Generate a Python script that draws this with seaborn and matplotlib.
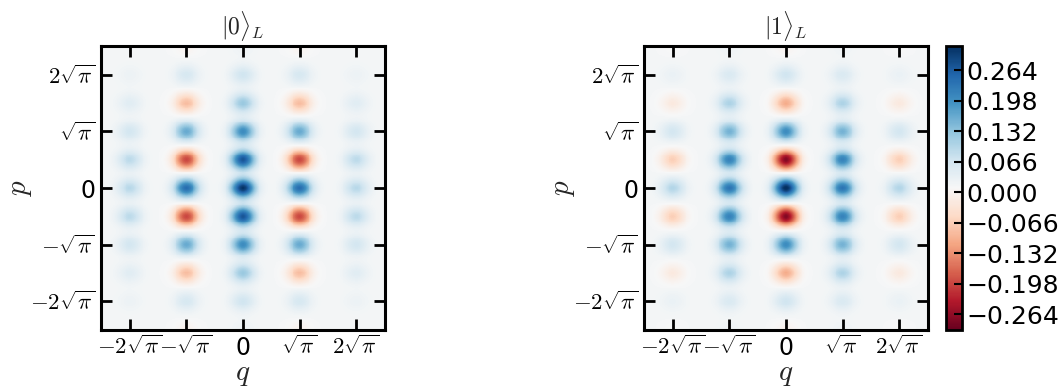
import numpy as np
import pandas as pd
import matplotlib
matplotlib.use("Agg")
import matplotlib.pyplot as plt
import seaborn as sns

# Lattice of peak positions, in units of sqrt(pi)
q_peaks = [-2, -1, 0, 1, 2]
p_peaks = [-2.5, -2.0, -1.5, -1.0, -0.5, 0.0, 0.5, 1.0, 1.5, 2.0, 2.5]

# Peak heights of W(q, p) for |0>_L : rows follow p_peaks, columns follow q_peaks
w0_peaks = [
    [0.000, -0.015, 0.010, -0.015, 0.000],
    [0.012, 0.045, 0.055, 0.045, 0.012],
    [0.030, -0.100, 0.110, -0.100, 0.030],
    [0.050, 0.150, 0.190, 0.150, 0.050],
    [0.075, -0.210, 0.260, -0.210, 0.075],
    [0.080, 0.230, 0.300, 0.230, 0.080],
    [0.075, -0.210, 0.260, -0.210, 0.075],
    [0.050, 0.150, 0.190, 0.150, 0.050],
    [0.030, -0.100, 0.110, -0.100, 0.030],
    [0.012, 0.045, 0.055, 0.045, 0.012],
    [0.000, -0.015, 0.010, -0.015, 0.000],
]

# Peak heights of W(q, p) for |1>_L
w1_peaks = [
    [-0.005, 0.008, -0.015, 0.008, -0.005],
    [0.015, 0.040, 0.055, 0.040, 0.015],
    [-0.035, 0.090, -0.120, 0.090, -0.035],
    [0.050, 0.140, 0.190, 0.140, 0.050],
    [-0.080, 0.200, -0.290, 0.200, -0.080],
    [0.085, 0.220, 0.310, 0.220, 0.085],
    [-0.080, 0.200, -0.290, 0.200, -0.080],
    [0.050, 0.140, 0.190, 0.140, 0.050],
    [-0.035, 0.090, -0.120, 0.090, -0.035],
    [0.015, 0.040, 0.055, 0.040, 0.015],
    [-0.005, 0.008, -0.015, 0.008, -0.005],
]

titles = [r"$|0\rangle_L$", r"$|1\rangle_L$"]
tick_units = [-2, -1, 0, 1, 2]
tick_labels = [r"$-2\sqrt{\pi}$", r"$-\sqrt{\pi}$", "0", r"$\sqrt{\pi}$", r"$2\sqrt{\pi}$"]
cbar_ticks = [-0.264, -0.198, -0.132, -0.066, 0.0, 0.066, 0.132, 0.198, 0.264]
vmin, vmax = -0.298, 0.317
background = 0.015

sns.set_theme(style="white")
plt.rcParams["font.family"] = ["DejaVu Sans"]
plt.rcParams["mathtext.fontset"] = "cm"
plt.rcParams["axes.axisbelow"] = False

sq = np.sqrt(np.pi)
extent = 2.5 * sq
n = 301
grid = np.linspace(-extent, extent, n)
Q, P = np.meshgrid(grid, grid)
sig_q, sig_p = 0.15 * sq, 0.12 * sq


def wigner_field(peaks):
    field = np.full_like(Q, background)
    for i, pc in enumerate(p_peaks):
        for j, qc in enumerate(q_peaks):
            amp = peaks[i][j]
            field += amp * np.exp(-((Q - qc * sq) ** 2) / (2 * sig_q ** 2)
                                  - ((P - pc * sq) ** 2) / (2 * sig_p ** 2))
    return pd.DataFrame(field, index=grid, columns=grid)


fig = plt.figure(figsize=(10.62, 3.90), dpi=100)
ax0 = fig.add_axes([0.0951, 0.1538, 0.2674, 0.7282])
ax1 = fig.add_axes([0.6064, 0.1538, 0.2674, 0.7282])
cax = fig.add_axes([0.8908, 0.1538, 0.0151, 0.7282])


def to_index(v):
    return (v - (-extent)) / (2 * extent) * (n - 1) + 0.5


def style_ticklabels(labels):
    for lab in labels:
        if lab.get_text() == "0":
            lab.set_fontsize(17)
        else:
            lab.set_fontsize(16.5)


for k, (ax, peaks) in enumerate(zip([ax0, ax1], [w0_peaks, w1_peaks])):
    df = wigner_field(peaks)
    sns.heatmap(df, ax=ax, cmap="RdBu", vmin=vmin, vmax=vmax,
                cbar=(k == 1), cbar_ax=cax if k == 1 else None,
                xticklabels=False, yticklabels=False, rasterized=True)
    ax.invert_yaxis()
    ax.set_aspect("equal")
    ax.set_axisbelow(False)
    pos = [to_index(t * sq) for t in tick_units]
    ax.set_xticks(pos)
    ax.set_xticklabels(tick_labels, rotation=0)
    ax.set_yticks(pos)
    ax.set_yticklabels(tick_labels, rotation=0)
    style_ticklabels(ax.get_xticklabels())
    style_ticklabels(ax.get_yticklabels())
    for s in ax.spines.values():
        s.set_visible(True)
        s.set_linewidth(2.2)
        s.set_color("black")
    ax.tick_params(direction="in", length=8, width=2, bottom=True, left=True,
                   top=True, right=True, colors="black", pad=4)
    ax.set_xlabel(r"$q$", fontsize=21)
    ax.xaxis.set_label_coords(0.5, -0.105)
    ax.set_ylabel(r"$p$", fontsize=21)
    ax.yaxis.set_label_coords(-0.235, 0.5)
    ax.set_title(titles[k], fontsize=17, pad=8)

cb = ax1.collections[0].colorbar
cb.set_ticks(cbar_ticks)
cb.set_ticklabels([f"{t:.3f}".replace("-", "\u2212") for t in cbar_ticks])
cb.outline.set_visible(True)
cb.outline.set_linewidth(2)
cb.outline.set_edgecolor("black")
cax.set_axisbelow(False)
cax.tick_params(direction="in", length=6, width=1.5, right=True, labelsize=18,
                colors="black", pad=3)

fig.savefig("out.png", dpi=100)
